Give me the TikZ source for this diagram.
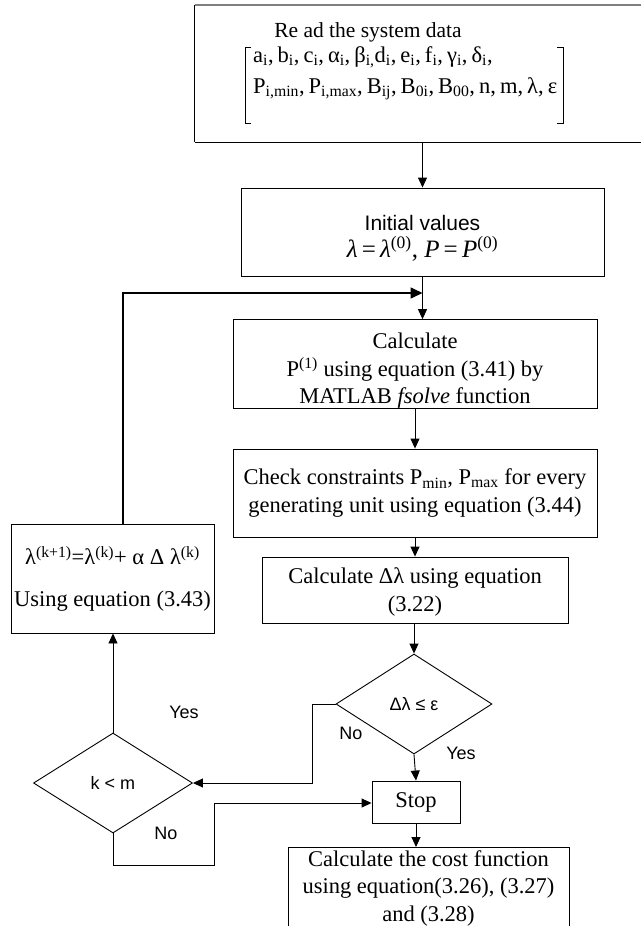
\documentclass[tikz,border=0pt]{standalone}
\usepackage{fontspec}
\setmainfont{Liberation Serif}
\newfontfamily\sansfam{Liberation Sans}
\usetikzlibrary{arrows.meta,shapes.geometric}
\newcommand\sbs[1]{\textsubscript{#1}}
\newcommand\sps[1]{\textsuperscript{#1}}
% invisible strut on a first line: pushes a text block lower inside its box
\newcommand\hstrut[1]{\rule{0pt}{#1}}
\newcommand\tightspace{\spaceskip=0.18em\relax}
\begin{document}
\begin{tikzpicture}[x=1pt,y=-1pt,
  txt/.style={font=\fontsize{22.5}{27.5}\selectfont, align=center, inner sep=0pt},
  lbl/.style={font=\sansfam\fontsize{18}{22}\selectfont, inner sep=0pt},
  box/.style={draw, line width=0.9pt, txt},
  dia/.style={draw, diamond, line width=0.9pt, inner sep=0pt, lbl},
  arr/.style={line width=0.9pt, -{Triangle[length=10pt,width=9pt]}},
  loopline/.style={line width=1.6pt, -{Triangle[length=12pt,width=11pt]}},
  ln/.style={line width=0.9pt}]
\useasboundingbox (0,0) rectangle (640,926);

% data input block (its right side runs past the page edge)
\node[txt, minimum width=450pt, minimum height=137pt] (read) at (420,73.5) {};
\draw[line width=1pt] (read.north west) -- (read.south west);
\draw[line width=2pt, gray] (read.north west) -- (read.north east);
\draw[line width=1.2pt] (read.south west) -- (read.south east);
\node[txt, font=\fontsize{21.5}{26}\selectfont] (readtitle) at (368,32) {Re ad the system data};
\node[txt, anchor=west] (row1) at (253,57)
  {\tightspace a\sbs{i}, b\sbs{i}, c\sbs{i}, α\sbs{i}, β\sbs{i,}d\sbs{i}, e\sbs{i}, f\sbs{i}, γ\sbs{i}, δ\sbs{i},};
\node[txt, anchor=west] (row2) at (253,89)
  {\tightspace P\sbs{i,min}, P\sbs{i,max}, B\sbs{ij}, B\sbs{0i}, B\sbs{00}, n, m, λ, ε};
\draw[ln] (251,47) -- (245,47) -- (245,123) -- (251,123);
\draw[ln] (557,47) -- (563,47) -- (563,123) -- (557,123);

% main column
\node[box, minimum width=363pt, minimum height=88pt] (init) at (422.5,232)
  {\hstrut{28pt}{\sansfam\fontsize{21}{25}\selectfont Initial values}\\[-1pt]
   {\fontsize{25}{28}\selectfont\textit{λ}\,=\,\textit{λ}\sps{(0)},\ \textit{P}\,=\,\textit{P}\sps{(0)}}};
\node[box, minimum width=364pt, minimum height=88pt] (calc) at (415,364)
  {\hstrut{29pt}Calculate\\P\sps{(1)} using equation (3.41) by\\MATLAB \textit{fsolve} function};
\node[box, minimum width=364pt, minimum height=88pt] (check) at (415,493)
  {Check constraints P\sbs{min}, P\sbs{max} for every\\generating unit using equation (3.44)};
\node[box, minimum width=306pt, minimum height=66pt] (dlam) at (415,590)
  {\hstrut{19.5pt}Calculate Δλ using equation\\(3.22)};
\node[dia, minimum width=156pt, minimum height=100pt] (conv) at (414,704) {Δλ ≤ ε};
\node[box, minimum width=88pt, minimum height=42pt] (stop) at (416,802) {Stop};
\node[draw, line width=0.9pt, minimum width=281pt, minimum height=113pt, anchor=north] (cost) at (428.5,847) {};
\node[txt] (costtext) at (428.5,888)
  {Calculate the cost function\\using equation(3.26), (3.27)\\and (3.28)};

% update branch
\node[box, minimum width=203pt, minimum height=109pt] (update) at (112.5,578.5)
  {λ\sps{(k+1)}=λ\sps{(k)}+ α Δ λ\sps{(k)}\\[14pt]Using equation (3.43)};
\node[dia, minimum width=159pt, minimum height=100pt] (iter) at (113,783) {k < m};

% connectors
\coordinate (join) at (init.south |- 0,293);
\draw[arr] (read.south -| init.north) -- (init.north);
\draw[arr] (init.south) -- (init.south |- calc.north);
\draw[arr] (calc.south) -- (check.north);
\draw[arr] (check.south) -- (dlam.north);
\draw[arr] (dlam.south -| conv.north) -- (conv.north);
\draw[arr] (conv.south) -- (stop.north);
\draw[arr] (stop.south) -- (stop.south |- cost.north);
\draw[arr] (conv.west) -- ++(-23,0) |- (iter.east);
\draw[arr] (iter.north) -- (iter.north |- update.south);
\draw[arr] (iter.south) -- ++(0,32) -| (214,803) -- (stop.west |- 0,803);
\draw[loopline] ([xshift=10.5pt]update.north) |- (join);

% branch labels
\node[lbl] (yes1) at (184,712) {Yes};
\node[lbl] (no1) at (351,733) {No};
\node[lbl] (yes2) at (461,753) {Yes};
\node[lbl] (no2) at (166,833) {No};
\end{tikzpicture}
\end{document}
